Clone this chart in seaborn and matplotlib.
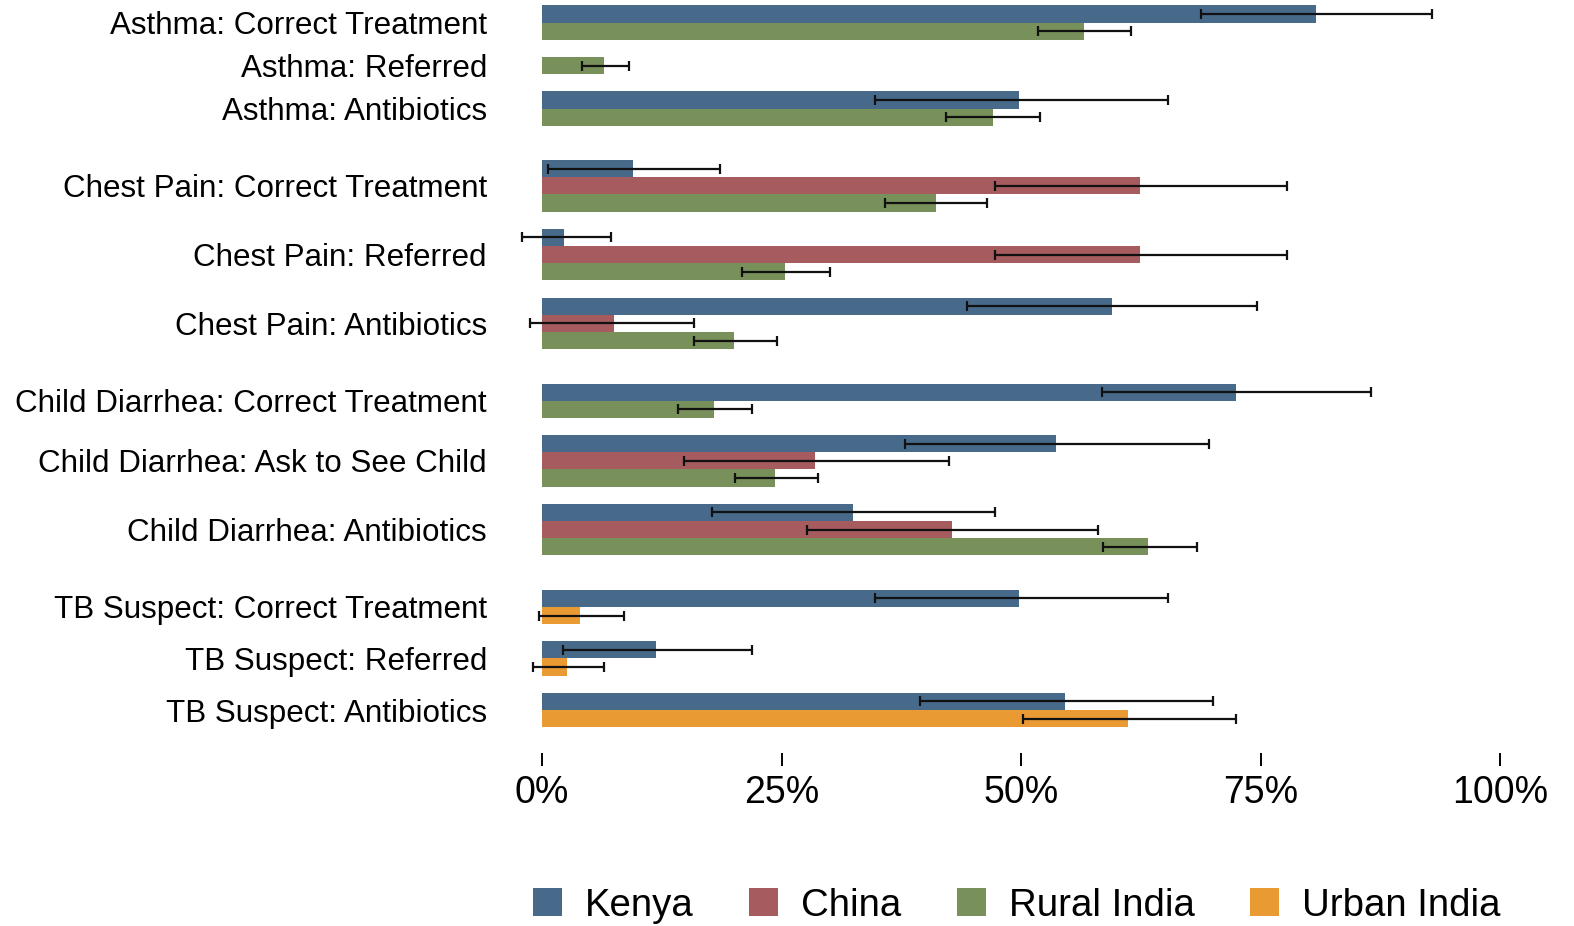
import numpy as np
import pandas as pd
import matplotlib
matplotlib.use("Agg")
import matplotlib.pyplot as plt
from matplotlib.patches import Patch
import seaborn as sns

# ---------------- data ----------------
rows = ["Asthma: Correct Treatment", "Asthma: Referred", "Asthma: Antibiotics",
        "Chest Pain: Correct Treatment", "Chest Pain: Referred", "Chest Pain: Antibiotics",
        "Child Diarrhea: Correct Treatment", "Child Diarrhea: Ask to See Child", "Child Diarrhea: Antibiotics",
        "TB Suspect: Correct Treatment", "TB Suspect: Referred", "TB Suspect: Antibiotics"]
row_group = [0, 0, 0, 1, 1, 1, 2, 2, 2, 3, 3, 3]

countries = ["Kenya", "China", "Rural India", "Urban India"]
nan = np.nan

kenya    = [80.8, nan, 49.8, 9.5, 2.3, 59.5, 72.4, 53.7, 32.5, 49.8, 11.9, 54.6]
kenya_lo = [68.8, nan, 34.8, 0.6, -2.1, 44.4, 58.5, 37.9, 17.7, 34.8, 2.2, 39.5]
kenya_hi = [92.9, nan, 65.3, 18.6, 7.2, 74.6, 86.5, 69.6, 47.3, 65.3, 21.9, 70.0]

china    = [nan, nan, nan, 62.4, 62.4, 7.5, nan, 28.5, 42.8, nan, nan, nan]
china_lo = [nan, nan, nan, 47.3, 47.3, -1.3, nan, 14.8, 27.7, nan, nan, nan]
china_hi = [nan, nan, nan, 77.8, 77.8, 15.9, nan, 42.5, 58.0, nan, nan, nan]

rural    = [56.6, 6.5, 47.1, 41.1, 25.4, 20.0, 18.0, 24.3, 63.3, nan, nan, nan]
rural_lo = [51.8, 4.2, 42.2, 35.8, 20.9, 15.9, 14.2, 20.1, 58.6, nan, nan, nan]
rural_hi = [61.5, 9.1, 52.0, 46.5, 30.1, 24.5, 21.9, 28.8, 68.4, nan, nan, nan]

urban    = [nan, nan, nan, nan, nan, nan, nan, nan, nan, 4.0, 2.6, 61.2]
urban_lo = [nan, nan, nan, nan, nan, nan, nan, nan, nan, -0.3, -0.9, 50.2]
urban_hi = [nan, nan, nan, nan, nan, nan, nan, nan, nan, 8.6, 6.5, 72.4]

xticks = [0, 25, 50, 75, 100]
xticklabels = ["0%", "25%", "50%", "75%", "100%"]

colors = {"Kenya": "#476a8b", "China": "#a65c5f", "Rural India": "#78915a", "Urban India": "#e99a33"}

# ---------------- layout of bars (slot units) ----------------
series = {"Kenya": (kenya, kenya_lo, kenya_hi),
          "China": (china, china_lo, china_hi),
          "Rural India": (rural, rural_lo, rural_hi),
          "Urban India": (urban, urban_lo, urban_hi)}

records = []
row_centers = []
cursor = 0.0
prev_group = None
for i, r in enumerate(rows):
    if prev_group is not None:
        cursor += 2 if row_group[i] != prev_group else 1
    prev_group = row_group[i]
    pos = []
    for c in countries:
        v, lo, hi = series[c]
        if not np.isnan(v[i]):
            y = cursor + 0.5
            records.append(dict(row=r, country=c, value=v[i], lo=lo[i], hi=hi[i], y=y))
            pos.append(y)
            cursor += 1
    row_centers.append(np.mean(pos))

df = pd.DataFrame(records)

# ---------------- plot ----------------
plt.rcParams['font.family'] = ['Liberation Sans', 'DejaVu Sans']
fig = plt.figure(figsize=(15.74, 9.26), dpi=100)
ax = fig.add_axes([513.3 / 1574, 1 - 753 / 926, 1034.6 / 1574, 751 / 926])

sns.barplot(data=df, x="value", y="y", hue="country", hue_order=countries,
            palette=colors, saturation=1, orient="h", native_scale=True, dodge=False,
            width=1.0, errorbar=None, linewidth=0, legend=False, ax=ax)

ax.errorbar(df["value"], df["y"],
            xerr=[df["value"] - df["lo"], df["hi"] - df["value"]],
            fmt="none", ecolor="#111111", elinewidth=1.6, capsize=3.8,
            capthick=1.6, clip_on=False, zorder=5)

ax.set_xlim(-3, 105)
ax.set_ylim(43.5, -0.2)
ax.set_yticks(row_centers)
ax.set_yticklabels(rows, fontsize=22.6)
ax.set_xticks(xticks)
ax.set_xticklabels(xticklabels, fontsize=27)
ax.tick_params(axis="y", length=0, pad=19)
ax.tick_params(axis="x", length=9, width=1.4, color="black", pad=7)
ax.set_xlabel("")
ax.set_ylabel("")
for s in ax.spines.values():
    s.set_visible(False)
ax.grid(False)
ax.set_facecolor("white")

handles = [Patch(facecolor=colors[c], edgecolor="none", label=c) for c in countries]
fig.legend(handles=handles, loc="center", bbox_to_anchor=(0.646, 0.022), ncol=4,
           frameon=False, fontsize=27.6, handlelength=0.75, handleheight=0.75,
           handletextpad=0.6, columnspacing=1.45, borderpad=0)

fig.savefig("out.png", dpi=100, facecolor="white")
